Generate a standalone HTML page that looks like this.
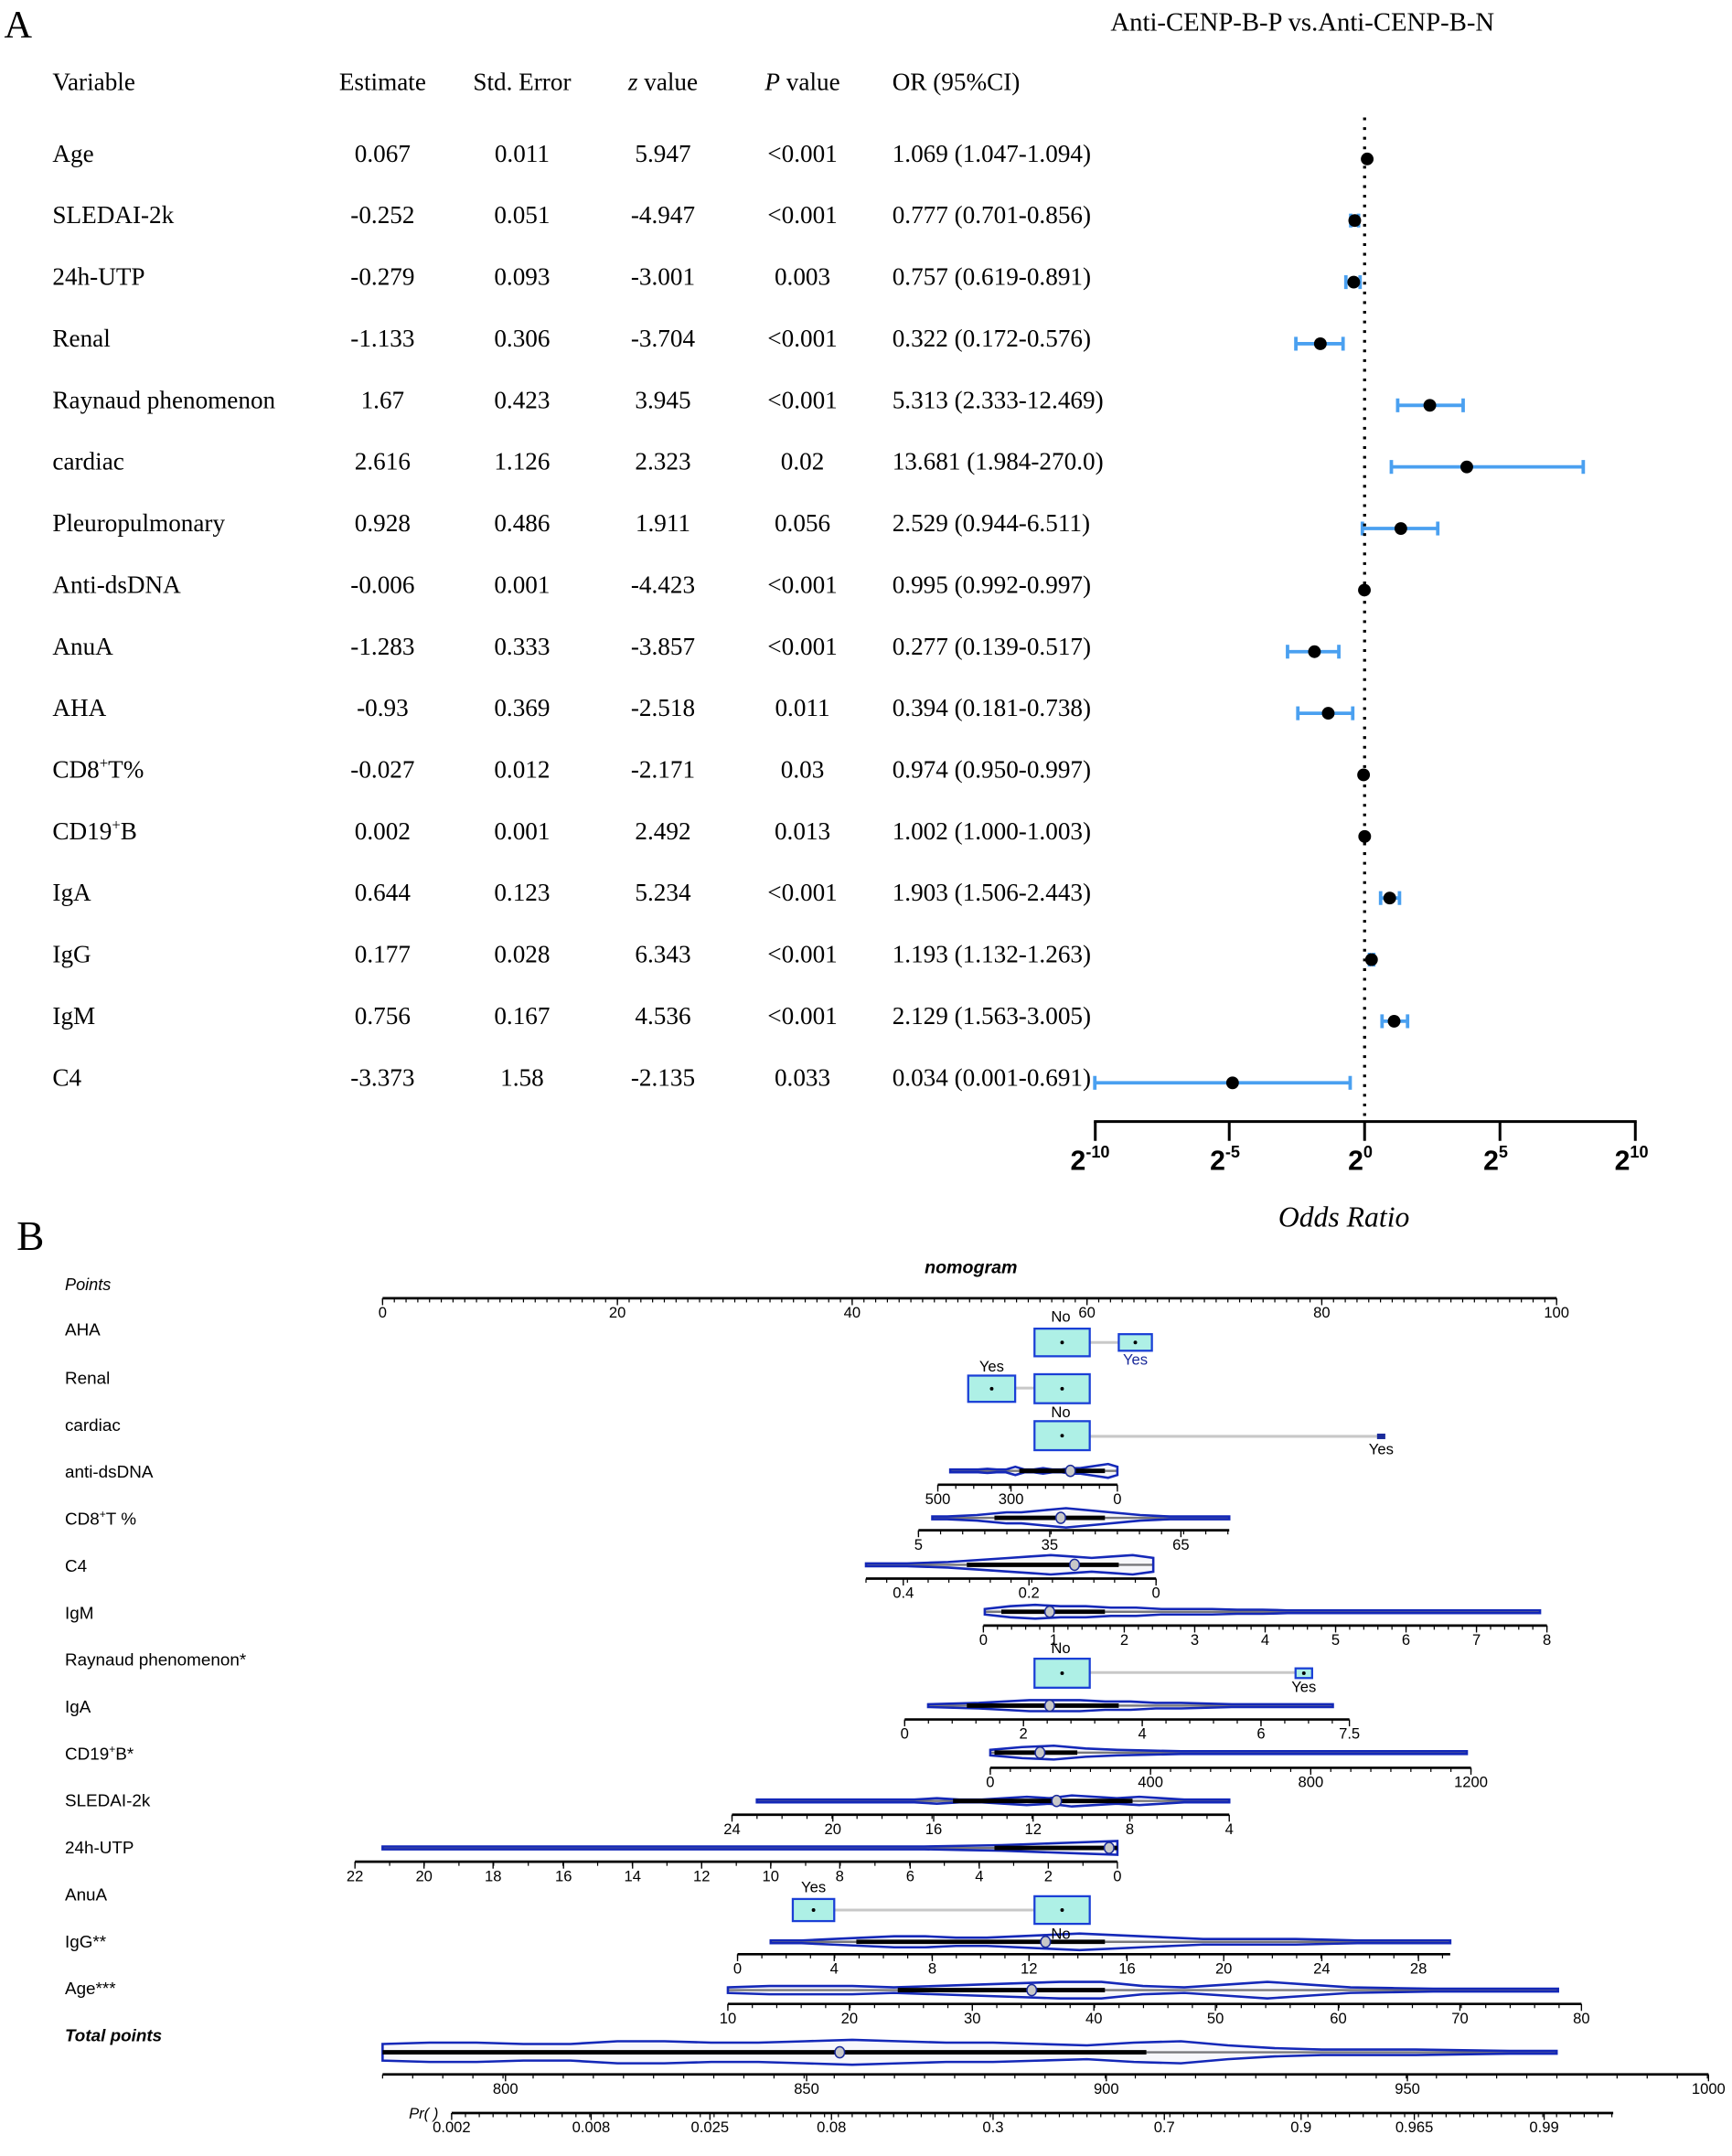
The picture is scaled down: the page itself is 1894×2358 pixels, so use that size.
<!DOCTYPE html>
<html><head><meta charset="utf-8"><style>
html,body{margin:0;padding:0;background:#fff;}
svg{display:block;}
.s{font-family:"Liberation Serif",serif;font-size:18px;fill:#000;}
.n{font-family:"Liberation Sans",sans-serif;font-size:12.5px;fill:#000;}
.t{font-family:"Liberation Sans",sans-serif;font-size:11px;fill:#000;}
</style></head><body>
<svg id="sv" width="1894" height="2358" viewBox="0 0 1254 1561" xmlns="http://www.w3.org/2000/svg">
<rect width="1254" height="1561" fill="#fff"/>
<text x="3" y="27" class="s" style="font-size:28px">A</text>
<text x="943" y="22" class="s" text-anchor="middle" style="font-size:19px">Anti-CENP-B-P vs.Anti-CENP-B-N</text>
<g class="s">
<text x="38" y="65">Variable</text>
<text x="277" y="65" text-anchor="middle">Estimate</text>
<text x="378" y="65" text-anchor="middle">Std. Error</text>
<text x="480" y="65" text-anchor="middle"><tspan font-style="italic">z</tspan> value</text>
<text x="581" y="65" text-anchor="middle"><tspan font-style="italic">P</tspan> value</text>
<text x="646" y="65">OR (95%CI)</text>
</g>
<g id="tbl" class="s"></g>
<g id="forest"></g>
<line x1="988" y1="85" x2="988" y2="810" stroke="#000" stroke-width="2.2" stroke-dasharray="2,5"/>
<line x1="792" y1="812" x2="1185" y2="812" stroke="#000" stroke-width="2"/>
<g stroke="#000" stroke-width="2"><line x1="793" y1="812" x2="793" y2="826"/><line x1="890" y1="812" x2="890" y2="826"/><line x1="988" y1="812" x2="988" y2="826"/><line x1="1086" y1="812" x2="1086" y2="826"/><line x1="1184" y1="812" x2="1184" y2="826"/></g>
<g font-family="Liberation Sans,sans-serif" font-weight="bold" font-size="20">
<text x="775" y="847">2<tspan font-size="12" dy="-9">-10</tspan></text>
<text x="876" y="847">2<tspan font-size="12" dy="-9">-5</tspan></text>
<text x="976" y="847">2<tspan font-size="12" dy="-9">0</tspan></text>
<text x="1074" y="847">2<tspan font-size="12" dy="-9">5</tspan></text>
<text x="1169" y="847">2<tspan font-size="12" dy="-9">10</tspan></text>
</g>
<text x="973" y="888" class="s" text-anchor="middle" font-style="italic" style="font-size:21px">Odds Ratio</text>

<text x="12" y="905" class="s" style="font-size:30px">B</text>
<text x="703" y="922" class="n" text-anchor="middle" font-weight="bold" font-style="italic" style="font-size:13px">nomogram</text>
<g class="n">
<text x="47" y="934" font-style="italic" style="font-size:12px">Points</text>
<text x="47" y="967">AHA</text>
<text x="47" y="1002">Renal</text>
<text x="47" y="1036">cardiac</text>
<text x="47" y="1070">anti-dsDNA</text>
<text x="47" y="1104">CD8<tspan font-size="8" dy="-5">+</tspan><tspan dy="5">T %</tspan></text>
<text x="47" y="1138">C4</text>
<text x="47" y="1172">IgM</text>
<text x="47" y="1206">Raynaud phenomenon*</text>
<text x="47" y="1240">IgA</text>
<text x="47" y="1274">CD19<tspan font-size="8" dy="-5">+</tspan><tspan dy="5">B*</tspan></text>
<text x="47" y="1308">SLEDAI-2k</text>
<text x="47" y="1342">24h-UTP</text>
<text x="47" y="1376">AnuA</text>
<text x="47" y="1410">IgG**</text>
<text x="47" y="1444">Age***</text>
<text x="47" y="1478" font-weight="bold" font-style="italic">Total points</text>
<text x="296" y="1534" font-style="italic" style="font-size:11px">Pr( )</text>
</g>
<g id="nomo"></g>
<g id="labels" class="t"></g>
</svg>
<script>
var NS="http://www.w3.org/2000/svg";
function el(p,tag,a,txt){var e=document.createElementNS(NS,tag);for(var k in a)e.setAttribute(k,a[k]);if(txt!==undefined)e.textContent=txt;p.appendChild(e);return e;}
var rows=[["Age","0.067","0.011","5.947","<0.001","1.069 (1.047-1.094)",1.069,1.047,1.094],
["SLEDAI-2k","-0.252","0.051","-4.947","<0.001","0.777 (0.701-0.856)",.777,.701,.856],
["24h-UTP","-0.279","0.093","-3.001","0.003","0.757 (0.619-0.891)",.757,.619,.891],
["Renal","-1.133","0.306","-3.704","<0.001","0.322 (0.172-0.576)",.322,.172,.576],
["Raynaud phenomenon","1.67","0.423","3.945","<0.001","5.313 (2.333-12.469)",5.313,2.333,12.469],
["cardiac","2.616","1.126","2.323","0.02","13.681 (1.984-270.0)",13.681,1.984,270],
["Pleuropulmonary","0.928","0.486","1.911","0.056","2.529 (0.944-6.511)",2.529,.944,6.511],
["Anti-dsDNA","-0.006","0.001","-4.423","<0.001","0.995 (0.992-0.997)",.995,.992,.997],
["AnuA","-1.283","0.333","-3.857","<0.001","0.277 (0.139-0.517)",.277,.139,.517],
["AHA","-0.93","0.369","-2.518","0.011","0.394 (0.181-0.738)",.394,.181,.738],
["CD8+T%","-0.027","0.012","-2.171","0.03","0.974 (0.950-0.997)",.974,.95,.997],
["CD19+B","0.002","0.001","2.492","0.013","1.002 (1.000-1.003)",1.002,1,1.003],
["IgA","0.644","0.123","5.234","<0.001","1.903 (1.506-2.443)",1.903,1.506,2.443],
["IgG","0.177","0.028","6.343","<0.001","1.193 (1.132-1.263)",1.193,1.132,1.263],
["IgM","0.756","0.167","4.536","<0.001","2.129 (1.563-3.005)",2.129,1.563,3.005],
["C4","-3.373","1.58","-2.135","0.033","0.034 (0.001-0.691)",.034,.001,.691]];
var tb=document.getElementById("tbl"),fo=document.getElementById("forest");
function X(v){return 988+19.6*Math.log2(v);}
rows.forEach(function(r,i){var y=111+i*44.6,by=y+6;
 var t=el(tb,"text",{x:38,y:by});
 if(r[0]=="CD8+T%"||r[0]=="CD19+B"){var p=r[0].split("+");t.textContent=p[0];el(t,"tspan",{"font-size":11,dy:-7},"+");el(t,"tspan",{dy:7},p[1]);}else t.textContent=r[0];
 el(tb,"text",{x:277,y:by,"text-anchor":"middle"},r[1]);
 el(tb,"text",{x:378,y:by,"text-anchor":"middle"},r[2]);
 el(tb,"text",{x:480,y:by,"text-anchor":"middle"},r[3]);
 el(tb,"text",{x:581,y:by,"text-anchor":"middle"},r[4]);
 el(tb,"text",{x:646,y:by},r[5]);
 var py=y+4,a=X(r[7]),b=X(r[8]);
 if(b-a>3){el(fo,"line",{x1:a,y1:py,x2:b,y2:py,stroke:"#4aa0f0","stroke-width":2.5});
 el(fo,"line",{x1:a,y1:py-5,x2:a,y2:py+5,stroke:"#4aa0f0","stroke-width":2.5});
 el(fo,"line",{x1:b,y1:py-5,x2:b,y2:py+5,stroke:"#4aa0f0","stroke-width":2.5});}
 el(fo,"circle",{cx:X(r[6]),cy:py,r:4.6,fill:"#000"});
});
var g=document.getElementById("nomo"),L=document.getElementById("labels");
function axis(y,x1,x2,labs,minor){el(g,"line",{x1:x1,y1:y,x2:x2,y2:y,stroke:"#000","stroke-width":1.8});
 if(minor){for(var x=x1;x<=x2+0.1;x+=minor)el(g,"line",{x1:x,y1:y,x2:x,y2:y+3,stroke:"#000","stroke-width":0.8});}
 labs.forEach(function(l){el(g,"line",{x1:l[1],y1:y,x2:l[1],y2:y+5,stroke:"#000","stroke-width":0.9});el(L,"text",{x:l[1],y:y+14,"text-anchor":"middle"},l[0]);});}
axis(940,277,1127,[["0",277],["20",447],["40",617],["60",787],["80",957],["100",1127]],8.5);
function box(x1,x2,y1,y2){el(g,"rect",{x:x1,y:y1,width:x2-x1,height:y2-y1,fill:"#aef0e6",stroke:"#1a3fd6","stroke-width":1.5});el(g,"circle",{cx:(x1+x2)/2,cy:(y1+y2)/2,r:1.3,fill:"#000"});}
function gl(x1,x2,y){el(g,"line",{x1:x1,y1:y,x2:x2,y2:y,stroke:"#c8c8c8","stroke-width":2});}
function lab(t,x,y,c){el(L,"text",{x:x,y:y,"text-anchor":"middle",fill:c||"#000"},t);}
gl(789,810,972);box(749,789,962,982);box(810,834,966,978);lab("No",768,957);lab("Yes",822,988,"#1a2a9a");
gl(735,749,1005);box(701,735,996,1015);box(749,789,995,1016);lab("Yes",718,993);lab("No",768,1026);
gl(789,998,1040);box(749,789,1029,1050);el(g,"rect",{x:997,y:1038,width:6,height:4,fill:"#1a2a9a"});lab("Yes",1000,1053);
gl(789,938,1211);box(749,789,1201,1222);box(938,950,1208,1215);lab("No",768,1197);lab("Yes",944,1225);
gl(604,749,1383);box(574,604,1375,1391);box(749,789,1373,1393);lab("Yes",589,1370);lab("No",768,1404);
function violin(y,x1,x2,prof,med,w){
 var n=prof.length,top=[],bot=[];
 for(var i=0;i<n;i++){var x=x1+(x2-x1)*i/(n-1);top.push(x.toFixed(1)+","+(y-prof[i]).toFixed(1));bot.unshift(x.toFixed(1)+","+(y+prof[i]).toFixed(1));}
 el(g,"line",{x1:x1,y1:y,x2:x2,y2:y,stroke:"#000","stroke-width":1.6});
 el(g,"polygon",{points:top.concat(bot).join(" "),fill:"rgba(240,240,248,0.5)",stroke:"#1428b8","stroke-width":1.7});
 el(g,"line",{x1:w[0],y1:y,x2:w[1],y2:y,stroke:"#000","stroke-width":3.2});
 el(g,"ellipse",{cx:med,cy:y,rx:3.5,ry:4,fill:"#c8c8c8",stroke:"#1a2a9a","stroke-width":1});}
violin(1065,688,809,[1,1,1,1,1.5,1,1,3,1,1,2,1,1,2,2,3,4,5,3],775,[738,800]);
axis(1075,679,809,[["500",679],["300",732],["0",809]],13);
violin(1099,675,890,[1,1,1.5,2,3,4,4,5,6,7,6,5,4,3,2,1.5,1,1,1,1,1],768,[720,800]);
axis(1108,665,890,[["5",665],["35",760],["65",855]],16);
violin(1133,627,835,[1,1,1,1.5,2,3,4,5,6,7,6,5,6,7,5],778,[700,810]);
axis(1143,627,837,[["0.4",654],["0.2",745],["0",837]],15);
violin(1167,713,1115,[2,4,5,4,4,3,3,2,2,2,1.5,1.5,1,1,1,1,1,1,1,1,1,1,1],760,[725,800]);
axis(1177,712,1120,[["0",712],["1",763],["2",814],["3",865],["4",916],["5",967],["6",1018],["7",1069],["8",1120]],10.2);
violin(1235,672,965,[1,1.5,2,3,4,4,4,3,3,2,2,1.5,1,1,1,1,1],760,[700,810]);
axis(1245,655,977,[["0",655],["2",741],["4",827],["6",913],["7.5",977]],17.2);
violin(1269,717,1062,[2,4,5,3,2,1.5,1,1,1,1,1,1,1,1,1,1],753,[720,780]);
axis(1280,717,1065,[["0",717],["400",833],["800",949],["1200",1065]],14.5);
violin(1304,548,890,[1,1,1,1,1,1,1,1,2,1,1,2,3,2,4,3,2,3,2,1,1,1],765,[690,820]);
axis(1314,530,890,[["24",530],["20",603],["16",676],["12",748],["8",818],["4",890]],18.1);
violin(1338,277,809,[1,1,1,1,1,1,1,1,1,1,1,1,1,1,1,1.5,2,3,4,5],803,[720,809]);
axis(1348,257,809,[["22",257],["20",307],["18",357],["16",408],["14",458],["12",508],["10",558],["8",608],["6",659],["4",709],["2",759],["0",809]],25.1);
violin(1406,558,1050,[1,1,2,3,4,4,3,3,4,5,6,5,4,3,2,2,2,2,1.5,1,1,1,1],757,[620,800]);
axis(1415,534,1050,[["0",534],["4",604],["8",675],["12",745],["16",816],["20",886],["24",957],["28",1027]],17.6);
violin(1441,527,1128,[2,3,3,3,2,3,4,5,6,6,3,2,4,6,4,2,1.5,1,1,1,1],747,[650,800]);
axis(1451,527,1145,[["10",527],["20",615],["30",704],["40",792],["50",880],["60",969],["70",1057],["80",1145]],17.7);
violin(1486,277,1127,[6,7,7,6,6,8,8,7,7,8,9,8,7,7,6,5,7,8,5,3,2,2,2,1.5,1,1],608,[277,830]);
axis(1502,277,1237,[["800",366],["850",584],["900",801],["950",1019],["1000",1237]],21.8);
axis(1530,327,1168,[["0.002",327],["0.008",428],["0.025",514],["0.08",602],["0.3",719],["0.7",843],["0.9",942],["0.965",1024],["0.99",1118]],10);
</script>
</body></html>
